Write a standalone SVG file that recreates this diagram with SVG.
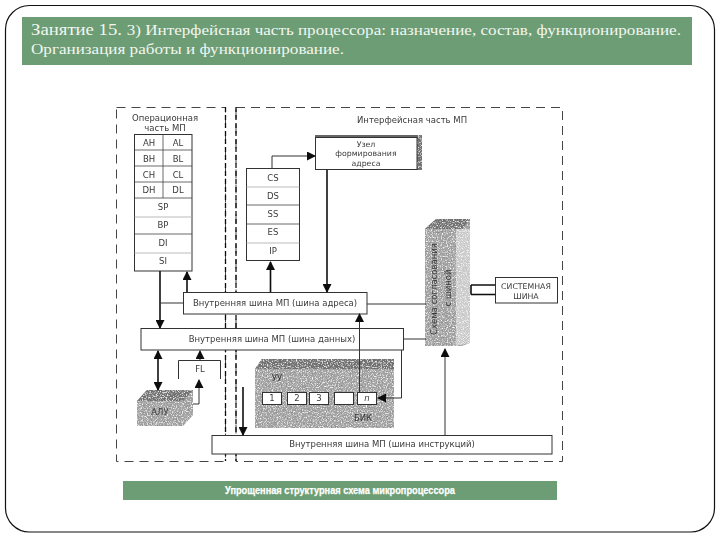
<svg xmlns="http://www.w3.org/2000/svg" width="720" height="540" viewBox="0 0 720 540">
<style>
.ln{fill:none;stroke:#333;stroke-width:1}
.hv{fill:none;stroke:#111;stroke-width:1.6}
.box{fill:#fff;stroke:#333;stroke-width:1}
.dash{fill:none;stroke:#444;stroke-width:1;stroke-dasharray:9 6}
.dash2{fill:none;stroke:#111;stroke-width:1.3;stroke-dasharray:5 3}
.sep{stroke:#444;stroke-width:.8}
.sepl{stroke:#aaa;stroke-width:.8}
.tex{fill:#a6a6a6;filter:url(#noise)}
.top{fill:#6e6e6e;filter:url(#noise)}
text{font-family:"DejaVu Sans",Arial,sans-serif;fill:#3a3a3a;text-anchor:middle;font-size:8.5px}
.sm{font-size:7.800px}
.ttl{font-family:"Liberation Serif","Times New Roman",serif;fill:#f2f6f1;text-anchor:start;font-size:15.500px}
.big{font-size:17px}
.cap{font-family:"Liberation Sans",Arial,sans-serif;fill:#fff;font-weight:bold;font-size:10.500px;stroke:#fff;stroke-width:.25}
</style>
<defs>
<marker id="a" markerWidth="9" markerHeight="9" refX="8" refY="4.5" orient="auto-start-reverse" markerUnits="userSpaceOnUse"><path d="M0 0L9 4.5L0 9Z" fill="#111"/></marker>
<filter id="noise" x="0" y="0" width="100%" height="100%"><feTurbulence type="fractalNoise" baseFrequency=".8" numOctaves="2" seed="4" result="n"/><feColorMatrix in="n" values="0 0 0 0 .25 0 0 0 0 .25 0 0 0 0 .25 3 0 0 0 -1.400" result="d"/><feComposite in="d" in2="SourceGraphic" operator="in" result="dark"/><feColorMatrix in="n" values="0 0 0 0 1 0 0 0 0 1 0 0 0 0 1 0 3 0 0 -1.500" result="w"/><feComposite in="w" in2="SourceGraphic" operator="in" result="light"/><feMerge><feMergeNode in="SourceGraphic"/><feMergeNode in="dark"/><feMergeNode in="light"/></feMerge></filter>
<filter id="soft" x="0" y="0" width="100%" height="100%"><feGaussianBlur stdDeviation=".35"/></filter>
</defs>
<rect width="720" height="540" fill="#fff"/>
<rect x="5.500" y="5.500" width="709" height="526.500" rx="24" ry="24" fill="none" stroke="#111" stroke-width="1.2"/>
<g id="header"><rect x="22" y="17" width="670" height="48" fill="#6c9d74"/>
<text class="ttl" x="31" y="35" textLength="650" lengthAdjust="spacingAndGlyphs"><tspan class="big">Занятие 15. </tspan>3) Интерфейсная часть процессора: назначение, состав, функционирование.</text>
<text class="ttl" x="31" y="54" textLength="313" lengthAdjust="spacingAndGlyphs">Организация работы и функционирование.</text></g>
<g id="diagram" filter="url(#soft)">
<g id="operational-part"><rect class="dash" x="116.500" y="107.500" width="109" height="354"/><text x="165" y="121">Операционная</text><text x="165" y="131">часть МП</text></g>
<g id="interface-part"><rect class="dash" x="236" y="107.500" width="326.500" height="354"/><path class="dash2" d="M225.500 107V461M236 107V461"/><text x="412" y="123">Интерфейсная часть МП</text></g>
<g id="general-registers"><rect class="box" x="134.500" y="134.500" width="57.500" height="136.500" stroke-width="1.2"/>
<path class="sep" d="M163 134.500V198M134.500 150H192M134.500 166H192M134.500 182H192M134.500 198H192M134.500 234H192"/><path class="sepl" d="M134.500 217H192M134.500 253H192"/>
<text x="149" y="146">AH</text><text x="178" y="146">AL</text><text x="149" y="162">BH</text><text x="178" y="162">BL</text><text x="149" y="178">CH</text><text x="178" y="178">CL</text><text x="149" y="193">DH</text><text x="178" y="193">DL</text>
<text x="163" y="210">SP</text><text x="163" y="228">BP</text><text x="163" y="246">DI</text><text x="163" y="264">SI</text></g>
<g id="segment-registers"><rect class="box" x="246.500" y="168.500" width="53" height="92" stroke-width="1.2"/>
<path class="sep" d="M246.500 205H299.500M246.500 224H299.500"/><path class="sepl" d="M246.500 187H299.500M246.500 243H299.500"/>
<text x="273" y="181">CS</text><text x="273" y="199">DS</text><text x="273" y="217">SS</text><text x="273" y="235">ES</text><text x="273" y="254">IP</text></g>
<g id="address-unit"><rect x="315" y="135" width="107" height="3" fill="#666"/><rect class="top" x="417" y="135" width="5" height="35"/><rect class="box" x="315.500" y="137.500" width="101.500" height="32"/>
<text class="sm" x="366" y="146.500">Узел</text><text class="sm" x="366" y="156">формирования</text><text class="sm" x="366" y="165.500">адреса</text></g>
<g id="address-bus"><rect class="box" x="183.500" y="292.500" width="183.500" height="21.500"/><text x="275" y="305.500">Внутренняя шина МП (шина адреса)</text></g>
<g id="data-bus"><rect class="box" x="141" y="328.500" width="262.500" height="21.500"/><text x="272" y="341.500">Внутренняя шина МП (шина данных)</text></g>
<g id="instruction-bus"><rect class="box" x="212" y="435.500" width="340" height="18.500"/><text x="382" y="447">Внутренняя шина МП (шина инструкций)</text></g>
<g id="interface-block"><path class="tex" d="M425 229L436 219H470V343L462 346H425Z"/><path class="top" d="M425 229L436 219H470L462 229Z"/><path d="M456 229H470V343L456 346Z" fill="#fff" opacity=".45"/>
<text transform="translate(437 289) rotate(-90)" font-size="8" fill="#111">Схема согласования</text><text transform="translate(451 288) rotate(-90)" font-size="8" fill="#111">с шиной</text></g>
<g id="system-bus"><rect class="box" x="495.500" y="277.500" width="62" height="25.500"/><text class="sm" x="526" y="289">СИСТЕМНАЯ</text><text class="sm" x="526" y="299">ШИНА</text></g>
<g id="fl"><path class="ln" d="M178.500 379V360.500H220.500V379"/><text x="200" y="372">FL</text></g>
<g id="alu"><path class="tex" d="M137 426V401L147 390H193V415L183 426Z"/><path class="top" d="M137 401L147 390H193L183 401Z"/><text x="160" y="415" fill="#111">АЛУ</text></g>
<g id="control-unit"><path class="tex" d="M255 428V369L262 359H394V428Z"/><path class="top" d="M255 369L262 359H394V369Z"/><text x="277" y="381" fill="#111">УУ</text><text x="363" y="421" fill="#111">БИК</text>
<rect class="box" x="262.500" y="392.500" width="19" height="12"/><rect class="box" x="287.500" y="392.500" width="19" height="12"/><rect class="box" x="309.500" y="392.500" width="19" height="12"/><rect class="box" x="334.500" y="392.500" width="19" height="12"/><rect class="box" x="357.500" y="392.500" width="19" height="12"/>
<text x="272" y="401">1</text><text x="297" y="401">2</text><text x="319" y="401">3</text><text x="367" y="401" font-style="italic">n</text></g>
<g id="connectors">
<path class="hv" d="M160 271V328" marker-end="url(#a)"/>
<path class="ln" d="M183 303H160"/>
<path class="hv" d="M187 292V272" marker-end="url(#a)"/>
<path class="hv" d="M270.500 292V262" marker-end="url(#a)"/>
<path class="ln" d="M272 168V156H315" marker-end="url(#a)"/>
<path class="hv" d="M327 170V292" marker-end="url(#a)"/>
<path class="ln" d="M367 304H426M403.500 339H426"/>
<path class="hv" d="M471 285H495M471 294.500H495M471 285V294.500"/>
<path class="hv" d="M158 351V390" marker-start="url(#a)" marker-end="url(#a)"/>
<path class="ln" d="M200 360V351" marker-end="url(#a)"/>
<path class="ln" d="M193 404H199V380" marker-end="url(#a)"/>
<path class="hv" d="M243 387V435" marker-end="url(#a)"/>
<path class="ln" d="M359.500 392V314" marker-end="url(#a)"/>
<path class="ln" d="M445 435V349" marker-end="url(#a)"/>
<path class="ln" d="M401.500 350V398H378" marker-end="url(#a)"/>
</g>
</g>
<g id="caption"><rect x="123" y="481" width="434" height="19" fill="#6c9d74"/><text class="cap" x="225" y="494" style="text-anchor:start" textLength="230" lengthAdjust="spacingAndGlyphs">Упрощенная структурная схема микропроцессора</text></g>
</svg>
